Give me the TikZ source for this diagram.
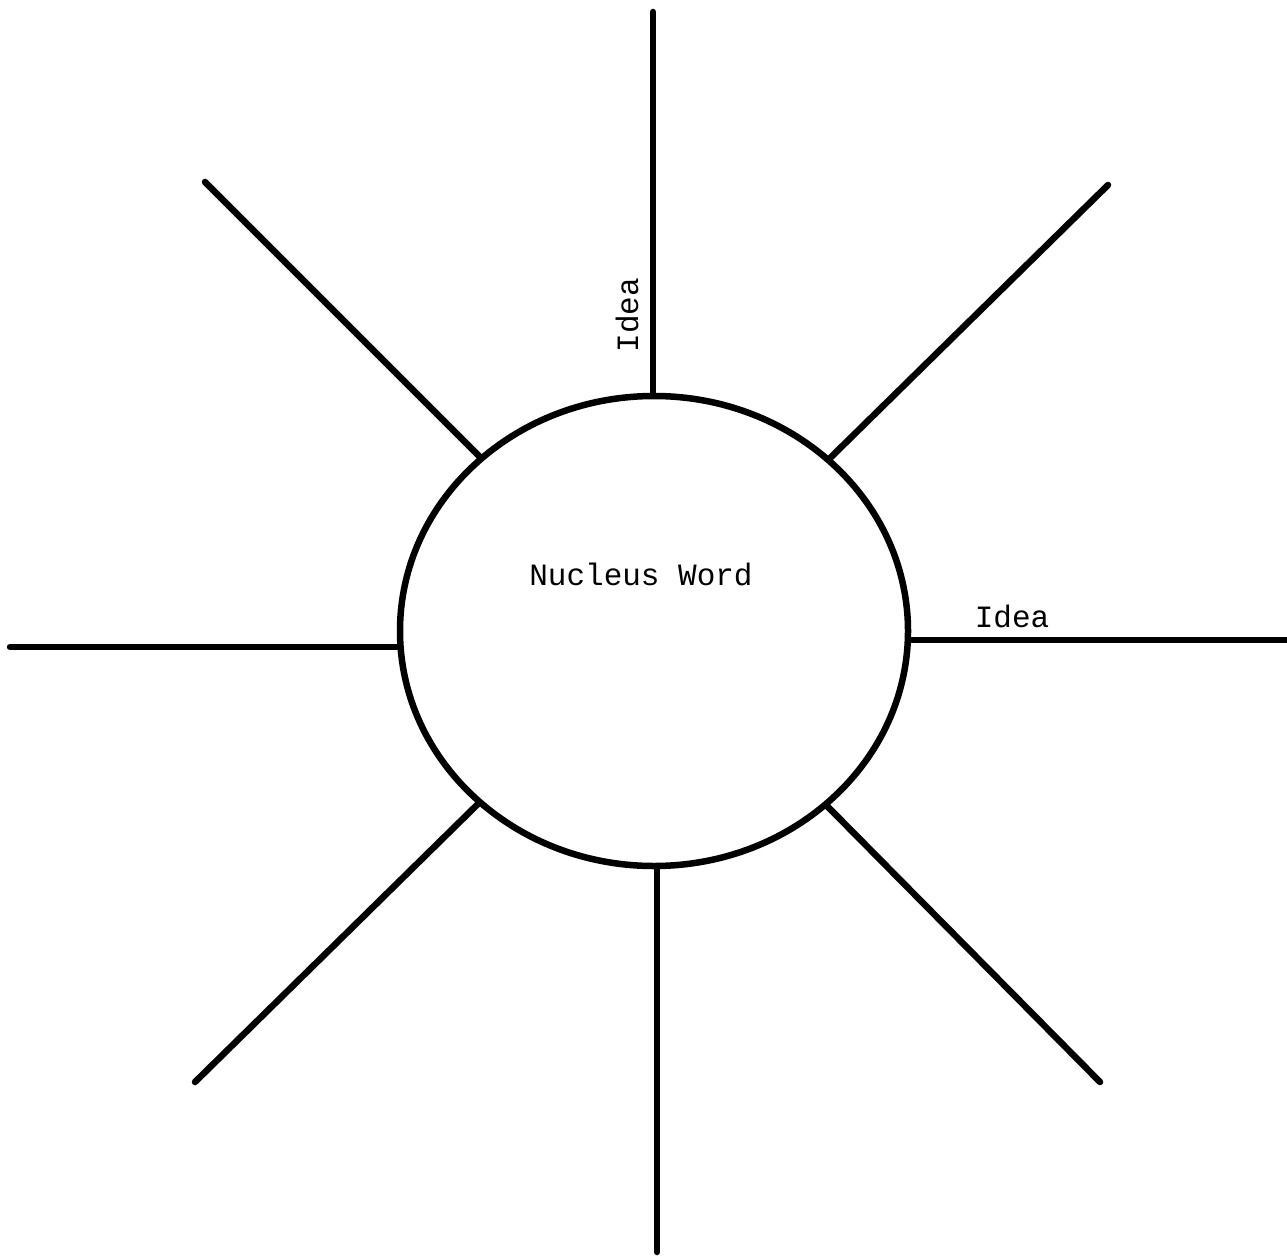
\documentclass[tikz,border=0pt]{standalone}
\usepackage{fontspec}
\setmonofont{Liberation Mono}
\usetikzlibrary{shapes.geometric}
\begin{document}
\begin{tikzpicture}[x=1pt,y=-1pt,
  spoke/.style={line width=6.5pt,line cap=round},
  lbl/.style={font=\ttfamily\fontsize{31}{36}\selectfont,inner sep=0pt}]
\useasboundingbox[fill=white] (0,0) rectangle (1287,1257);
\node[ellipse,draw,line width=6.5pt,minimum width=508pt,minimum height=470pt,inner sep=0pt] (nuc) at (654,631) {};
\coordinate (t) at (653,12);
\coordinate (b) at (657,1252);
\coordinate (l) at (10,647);
\coordinate (r) at (1287,640);
\coordinate (ul) at (205,182);
\coordinate (ur) at (1108,185);
\coordinate (ll) at (195,1082);
\coordinate (lr) at (1100,1082);
\draw[spoke] (t) -- (t |- nuc.north);
\draw[spoke] (b) -- (b |- nuc.south);
\draw[spoke] (l) -- (l -| nuc.west);
\draw[spoke] (r) -- (r -| nuc.east);
\foreach \p in {ul,ur,ll,lr} \draw[spoke] (nuc) -- (\p);
\node[lbl] (word) at (641,574) {Nucleus Word};
\node[lbl,rotate=90] (idea1) at (627,315) {Idea};
\node[lbl] (idea2) at (1012,616) {Idea};
\end{tikzpicture}
\end{document}
